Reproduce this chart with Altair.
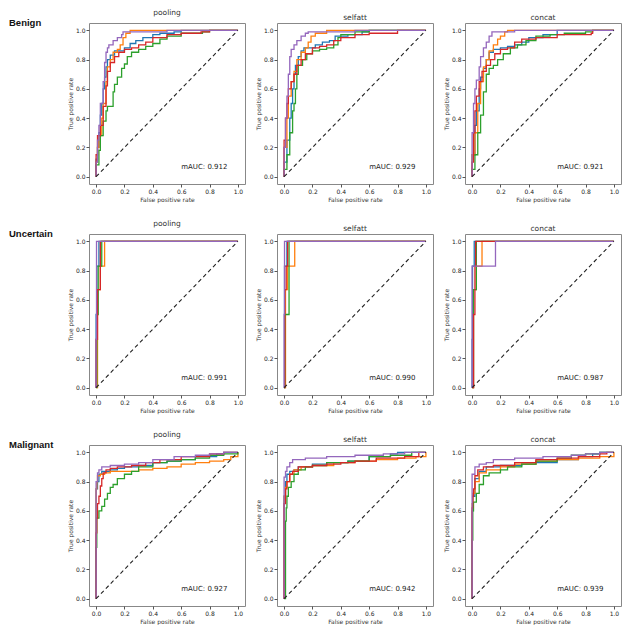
import altair as alt
import pandas as pd

FOLDS = ["fold 1", "fold 2", "fold 3", "fold 4", "fold 5"]
COLORS = ["#1f77b4", "#ff7f0e", "#2ca02c", "#d62728", "#9467bd"]
ROWS = ["Benign", "Uncertain", "Malignant"]
METHODS = ["pooling", "selfatt", "concat"]
MAUC = [[0.912, 0.929, 0.921], [0.991, 0.990, 0.987], [0.927, 0.942, 0.939]]
TICKS = [0.0, 0.2, 0.4, 0.6, 0.8, 1.0]

# each curve: list of (false positive rate, true positive rate); order blue, orange, green, red, purple
BENIGN_POOLING = [
    [(0,0),(0,0.12),(0.01,0.2),(0.02,0.3),(0.03,0.42),(0.04,0.5),(0.05,0.6),(0.06,0.68),(0.07,0.75),(0.08,0.8),(0.1,0.83),(0.13,0.86),(0.17,0.86),(0.2,0.88),(0.24,0.91),(0.28,0.93),(0.33,0.95),(0.4,0.97),(0.45,0.98),(0.55,0.99),(0.6,1.0),(1,1)],
    [(0,0),(0,0.1),(0.01,0.2),(0.02,0.28),(0.04,0.4),(0.05,0.5),(0.07,0.65),(0.08,0.75),(0.1,0.8),(0.12,0.85),(0.15,0.87),(0.17,0.9),(0.19,0.95),(0.21,0.98),(0.24,1.0),(1,1)],
    [(0,0),(0,0.08),(0.02,0.18),(0.03,0.28),(0.05,0.38),(0.07,0.45),(0.08,0.48),(0.11,0.48),(0.12,0.58),(0.13,0.63),(0.15,0.68),(0.18,0.74),(0.2,0.77),(0.22,0.82),(0.25,0.85),(0.3,0.87),(0.35,0.89),(0.4,0.91),(0.45,0.94),(0.5,0.96),(0.6,0.98),(0.75,0.99),(0.8,1.0),(1,1)],
    [(0,0),(0,0.15),(0.01,0.28),(0.03,0.35),(0.05,0.48),(0.07,0.62),(0.08,0.72),(0.1,0.78),(0.13,0.82),(0.16,0.85),(0.2,0.87),(0.25,0.88),(0.3,0.9),(0.35,0.92),(0.4,0.95),(0.5,0.97),(0.6,0.98),(0.74,0.99),(0.8,1.0),(1,1)],
    [(0,0),(0,0.1),(0.01,0.25),(0.02,0.35),(0.03,0.5),(0.05,0.65),(0.06,0.78),(0.07,0.85),(0.08,0.88),(0.09,0.9),(0.12,0.93),(0.15,0.95),(0.18,0.97),(0.19,0.99),(0.35,0.99),(0.5,1.0),(1,1)],
]
BENIGN_SELFATT = [
    [(0,0),(0,0.1),(0.02,0.25),(0.04,0.4),(0.05,0.5),(0.06,0.6),(0.07,0.7),(0.08,0.76),(0.1,0.82),(0.12,0.86),(0.14,0.88),(0.2,0.88),(0.22,0.9),(0.27,0.92),(0.32,0.93),(0.36,0.96),(0.45,0.97),(0.55,0.99),(0.6,1.0),(1,1)],
    [(0,0),(0,0.2),(0.02,0.4),(0.03,0.55),(0.05,0.65),(0.07,0.72),(0.09,0.8),(0.12,0.85),(0.15,0.88),(0.17,0.92),(0.19,0.96),(0.22,0.98),(0.3,1.0),(1,1)],
    [(0,0),(0,0.05),(0.02,0.15),(0.04,0.3),(0.06,0.45),(0.07,0.5),(0.08,0.6),(0.09,0.7),(0.1,0.76),(0.13,0.8),(0.16,0.84),(0.2,0.86),(0.25,0.87),(0.3,0.88),(0.35,0.9),(0.38,0.95),(0.4,0.97),(0.5,0.99),(0.6,1.0),(1,1)],
    [(0,0),(0,0.25),(0.01,0.4),(0.02,0.5),(0.03,0.6),(0.05,0.65),(0.07,0.7),(0.09,0.76),(0.12,0.8),(0.15,0.84),(0.2,0.88),(0.25,0.89),(0.3,0.9),(0.35,0.93),(0.4,0.95),(0.5,0.97),(0.6,0.98),(0.76,0.98),(0.8,1.0),(1,1)],
    [(0,0),(0,0.2),(0.01,0.4),(0.02,0.55),(0.03,0.7),(0.04,0.82),(0.05,0.87),(0.07,0.9),(0.09,0.93),(0.12,0.96),(0.15,0.98),(0.17,0.99),(0.5,1.0),(1,1)],
]
BENIGN_CONCAT = [
    [(0,0),(0,0.15),(0.02,0.35),(0.03,0.45),(0.05,0.6),(0.06,0.68),(0.08,0.74),(0.1,0.8),(0.12,0.85),(0.15,0.87),(0.2,0.88),(0.25,0.89),(0.3,0.9),(0.35,0.92),(0.4,0.95),(0.5,0.97),(0.6,1.0),(1,1)],
    [(0,0),(0,0.15),(0.02,0.3),(0.04,0.5),(0.06,0.65),(0.08,0.75),(0.1,0.8),(0.12,0.86),(0.15,0.9),(0.18,0.94),(0.2,0.96),(0.23,0.99),(0.25,1.0),(1,1)],
    [(0,0),(0,0.05),(0.02,0.15),(0.04,0.3),(0.06,0.42),(0.08,0.58),(0.1,0.7),(0.12,0.74),(0.15,0.76),(0.18,0.8),(0.22,0.84),(0.27,0.88),(0.32,0.9),(0.38,0.93),(0.45,0.96),(0.55,0.97),(0.65,0.98),(0.8,0.99),(0.85,1.0),(1,1)],
    [(0,0),(0,0.1),(0.01,0.3),(0.02,0.45),(0.03,0.55),(0.05,0.65),(0.07,0.72),(0.1,0.76),(0.13,0.8),(0.16,0.84),(0.2,0.87),(0.25,0.88),(0.3,0.92),(0.35,0.94),(0.45,0.95),(0.6,0.97),(0.84,0.98),(0.85,1.0),(1,1)],
    [(0,0),(0,0.3),(0.01,0.5),(0.02,0.6),(0.03,0.66),(0.05,0.75),(0.06,0.82),(0.08,0.88),(0.1,0.92),(0.12,0.96),(0.14,0.99),(0.25,0.99),(0.3,1.0),(1,1)],
]
UNCERTAIN_POOLING = [
    [(0,0),(0,0.5),(0.005,0.83),(0.02,1.0),(1,1)],
    [(0,0),(0.01,0.67),(0.03,0.83),(0.06,1.0),(1,1)],
    [(0,0),(0.005,0.5),(0.015,0.83),(0.04,1.0),(1,1)],
    [(0,0),(0,0.33),(0.01,0.67),(0.03,1.0),(1,1)],
    [(0,0),(0,0.33),(0.003,1.0),(1,1)],
]
UNCERTAIN_SELFATT = [
    [(0,0),(0.003,0.83),(0.02,1.0),(1,1)],
    [(0,0),(0.01,0.67),(0.025,0.83),(0.075,1.0),(1,1)],
    [(0,0),(0.005,0.5),(0.035,1.0),(1,1)],
    [(0,0),(0.005,0.67),(0.015,0.83),(0.025,1.0),(1,1)],
    [(0,0),(0,0.5),(0.003,1.0),(1,1)],
]
UNCERTAIN_CONCAT = [
    [(0,0),(0,0.33),(0.003,0.83),(0.015,1.0),(1,1)],
    [(0,0),(0.01,0.67),(0.03,0.83),(0.07,1.0),(1,1)],
    [(0,0),(0.01,0.67),(0.03,1.0),(1,1)],
    [(0,0),(0.01,0.5),(0.02,0.83),(0.025,1.0),(1,1)],
    [(0,0),(0,0.83),(0.165,1.0),(1,1)],
]
MALIGNANT_POOLING = [
    [(0,0),(0,0.75),(0.01,0.8),(0.02,0.85),(0.04,0.87),(0.1,0.88),(0.15,0.89),(0.2,0.9),(0.3,0.91),(0.4,0.93),(0.5,0.94),(0.6,0.95),(0.7,0.97),(0.85,0.99),(0.9,1.0),(1,1)],
    [(0,0),(0,0.75),(0.005,0.8),(0.01,0.84),(0.03,0.85),(0.06,0.86),(0.1,0.87),(0.2,0.87),(0.3,0.88),(0.4,0.89),(0.5,0.9),(0.6,0.92),(0.7,0.93),(0.8,0.94),(0.9,0.95),(0.95,0.97),(1,1)],
    [(0,0),(0,0.35),(0.005,0.55),(0.02,0.6),(0.04,0.63),(0.06,0.68),(0.08,0.72),(0.1,0.76),(0.12,0.78),(0.15,0.82),(0.2,0.85),(0.25,0.87),(0.3,0.9),(0.4,0.93),(0.5,0.94),(0.6,0.95),(0.7,0.96),(0.8,0.98),(0.9,0.99),(1,1)],
    [(0,0),(0,0.45),(0.005,0.55),(0.01,0.65),(0.02,0.7),(0.03,0.77),(0.04,0.82),(0.05,0.86),(0.07,0.88),(0.1,0.89),(0.15,0.9),(0.25,0.91),(0.35,0.93),(0.45,0.95),(0.6,0.97),(0.8,0.99),(0.9,1.0),(1,1)],
    [(0,0),(0,0.8),(0.01,0.86),(0.02,0.88),(0.04,0.9),(0.1,0.91),(0.2,0.92),(0.3,0.93),(0.4,0.95),(0.55,0.97),(0.7,0.98),(0.8,0.99),(0.9,1.0),(1,1)],
]
MALIGNANT_SELFATT = [
    [(0,0),(0,0.7),(0.01,0.8),(0.02,0.85),(0.04,0.87),(0.07,0.88),(0.1,0.9),(0.2,0.92),(0.3,0.93),(0.45,0.94),(0.6,0.97),(0.75,0.99),(0.8,1.0),(1,1)],
    [(0,0),(0,0.7),(0.01,0.76),(0.02,0.8),(0.04,0.85),(0.07,0.88),(0.12,0.9),(0.2,0.91),(0.35,0.93),(0.5,0.94),(0.65,0.95),(0.8,0.96),(0.93,0.97),(1,1)],
    [(0,0),(0.01,0.53),(0.015,0.62),(0.02,0.7),(0.03,0.76),(0.05,0.8),(0.07,0.85),(0.1,0.88),(0.15,0.9),(0.2,0.91),(0.3,0.93),(0.45,0.94),(0.6,0.97),(0.75,0.98),(0.9,1.0),(1,1)],
    [(0,0),(0,0.65),(0.01,0.75),(0.02,0.8),(0.04,0.85),(0.06,0.87),(0.1,0.9),(0.2,0.91),(0.3,0.92),(0.4,0.93),(0.5,0.94),(0.65,0.96),(0.85,0.97),(0.95,1.0),(1,1)],
    [(0,0),(0,0.83),(0.01,0.87),(0.02,0.9),(0.04,0.93),(0.06,0.95),(0.15,0.96),(0.3,0.97),(0.5,0.98),(0.7,0.99),(0.85,1.0),(1,1)],
]
MALIGNANT_CONCAT = [
    [(0,0),(0,0.6),(0.005,0.7),(0.02,0.82),(0.05,0.87),(0.1,0.9),(0.2,0.91),(0.35,0.92),(0.45,0.93),(0.6,0.95),(0.75,0.97),(0.85,0.99),(0.9,1.0),(1,1)],
    [(0,0),(0,0.65),(0.005,0.72),(0.02,0.8),(0.05,0.86),(0.1,0.88),(0.2,0.9),(0.3,0.92),(0.45,0.94),(0.6,0.95),(0.75,0.96),(0.9,0.97),(0.95,0.97),(1,1)],
    [(0,0),(0,0.4),(0.005,0.6),(0.01,0.66),(0.03,0.72),(0.05,0.78),(0.08,0.84),(0.12,0.86),(0.2,0.88),(0.25,0.9),(0.35,0.92),(0.45,0.94),(0.6,0.96),(0.7,0.98),(0.8,0.99),(0.9,1.0),(1,1)],
    [(0,0),(0,0.62),(0.005,0.7),(0.01,0.75),(0.02,0.84),(0.04,0.88),(0.08,0.9),(0.15,0.91),(0.3,0.93),(0.45,0.95),(0.6,0.96),(0.75,0.97),(0.9,0.99),(0.95,1.0),(1,1)],
    [(0,0),(0,0.85),(0.02,0.9),(0.05,0.92),(0.1,0.93),(0.15,0.95),(0.3,0.96),(0.5,0.97),(0.7,0.98),(0.8,0.99),(0.9,1.0),(1,1)],
]
CURVES = [
    [BENIGN_POOLING, BENIGN_SELFATT, BENIGN_CONCAT],
    [UNCERTAIN_POOLING, UNCERTAIN_SELFATT, UNCERTAIN_CONCAT],
    [MALIGNANT_POOLING, MALIGNANT_SELFATT, MALIGNANT_CONCAT],
]

W, H = 156, 161
FONT = "DejaVu Sans"


def curve_frame(curves):
    rows = []
    for fold, pts in zip(FOLDS, curves):
        for i, (x, y) in enumerate(pts):
            rows.append({"fold": fold, "i": i, "fpr": x, "tpr": y})
    return pd.DataFrame(rows)


def axis(title):
    return alt.Axis(title=title, values=TICKS, format=".1f", grid=False, domain=False,
                    tickSize=3, tickColor="#555", labelFontSize=6, titleFontSize=6,
                    labelFont=FONT, titleFont=FONT, titleFontWeight="normal",
                    labelColor="#222", titleColor="#333", labelPadding=1, titlePadding=2)


def panel(curves, method, mauc, label=None):
    xs = alt.Scale(domain=[-0.05, 1.05], nice=False, zero=False)
    ys = alt.Scale(domain=[-0.05, 1.05], nice=False, zero=False)
    xenc = alt.X("fpr:Q", scale=xs, axis=axis("False positive rate"))
    yenc = alt.Y("tpr:Q", scale=ys, axis=axis("True positive rate"))
    lines = alt.Chart(curve_frame(curves)).mark_line(
        interpolate="step-after", strokeWidth=1.3
    ).encode(
        x=xenc, y=yenc,
        color=alt.Color("fold:N", scale=alt.Scale(domain=FOLDS, range=COLORS), legend=None),
        order=alt.Order("i:Q"),
    )
    diag = alt.Chart(pd.DataFrame({"fpr": [0.0, 1.0], "tpr": [0.0, 1.0]})).mark_line(
        color="#222", strokeDash=[4, 3], strokeWidth=1.1
    ).encode(x=xenc, y=yenc)
    txt = alt.Chart(pd.DataFrame({"fpr": [0.6], "tpr": [0.065], "t": [f"mAUC: {mauc:.3f}"]})).mark_text(
        align="left", baseline="middle", fontSize=7, font=FONT, color="#222"
    ).encode(x=xenc, y=yenc, text="t:N")
    layers = [lines, diag, txt]
    if label:
        lab = alt.Chart(pd.DataFrame({"label": [label]})).mark_text(
            align="left", baseline="middle", fontSize=9.5, fontWeight="bold",
            font="Liberation Sans", color="#111"
        ).encode(x=alt.value(-80), y=alt.value(0), text="label:N")
        layers.append(lab)
    return alt.layer(*layers).properties(
        width=W, height=H,
        title=alt.TitleParams(method, fontSize=7.5, fontWeight="normal", font=FONT,
                              color="#333", offset=2),
    )


rows = []
for r in range(3):
    row = alt.hconcat(*[
        panel(CURVES[r][c], METHODS[c], MAUC[r][c], ROWS[r] if c == 0 else None)
        for c in range(3)
    ], spacing=8)
    rows.append(row)

chart = alt.vconcat(*rows, spacing=16).properties(
    padding={"left": 0, "top": 0, "right": 0, "bottom": 0}
).configure_view(stroke="#888", strokeWidth=1)

chart.save("out.html", embed_options={"renderer": "svg", "actions": False})
